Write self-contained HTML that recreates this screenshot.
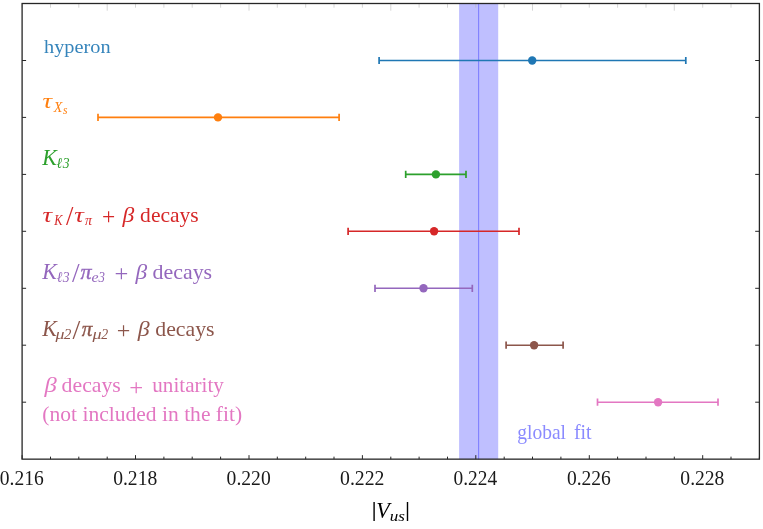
<!DOCTYPE html>
<html><head><meta charset="utf-8"><title>Vus</title>
<style>
html,body{margin:0;padding:0;background:#fff;}
body{width:763px;height:529px;overflow:hidden;}
svg{display:block;will-change:transform;}
text{font-family:"Liberation Serif",serif;}
.i{font-style:italic;}
</style></head><body>
<svg width="763" height="529" viewBox="0 0 763 529">
<rect x="0" y="0" width="763" height="529" fill="#ffffff"/>
<rect x="459.1" y="3.5" width="39.1" height="455.65" fill="#bfbfff"/>
<line x1="478.6" y1="3.5" x2="478.6" y2="459.15" stroke="#8080ff" stroke-width="1.1"/>
<path d="M22.1 3.5v4.2 M50.5 3.5v4.2 M78.8 3.5v4.2 M107.2 3.5v7.2 M135.5 3.5v4.2 M163.9 3.5v4.2 M192.2 3.5v4.2 M220.6 3.5v4.2 M249.0 3.5v7.2 M277.3 3.5v4.2 M305.7 3.5v4.2 M334.0 3.5v4.2 M362.4 3.5v4.2 M390.8 3.5v7.2 M419.1 3.5v4.2 M447.5 3.5v4.2 M475.8 3.5v4.2 M504.2 3.5v4.2 M532.5 3.5v7.2 M560.9 3.5v4.2 M589.3 3.5v4.2 M617.6 3.5v4.2 M646.0 3.5v4.2 M674.3 3.5v7.2 M702.7 3.5v4.2 M731.0 3.5v4.2 M759.4 3.5v4.2" stroke="#b4b4b4" stroke-width="0.55" fill="none"/>
<path d="M22.1 459.15v-4.0 M50.5 459.15v-2.5 M78.8 459.15v-2.5 M107.2 459.15v-2.5 M135.5 459.15v-4.0 M163.9 459.15v-2.5 M192.2 459.15v-2.5 M220.6 459.15v-2.5 M249.0 459.15v-4.0 M277.3 459.15v-2.5 M305.7 459.15v-2.5 M334.0 459.15v-2.5 M362.4 459.15v-4.0 M390.8 459.15v-2.5 M419.1 459.15v-2.5 M447.5 459.15v-2.5 M475.8 459.15v-4.0 M504.2 459.15v-2.5 M532.5 459.15v-2.5 M560.9 459.15v-2.5 M589.3 459.15v-4.0 M617.6 459.15v-2.5 M646.0 459.15v-2.5 M674.3 459.15v-2.5 M702.7 459.15v-4.0 M731.0 459.15v-2.5 M759.4 459.15v-2.5 M22.1 60.5h4 M759.4 60.5h-4.2 M22.1 117.4h4 M759.4 117.4h-4.2 M22.1 174.4h4 M759.4 174.4h-4.2 M22.1 231.3h4 M759.4 231.3h-4.2 M22.1 288.3h4 M759.4 288.3h-4.2 M22.1 345.2h4 M759.4 345.2h-4.2 M22.1 402.2h4 M759.4 402.2h-4.2" stroke="#262626" stroke-width="1" fill="none"/>
<g stroke="#1f77b4" fill="#1f77b4"><path d="M379.1 60.5H685.8" stroke-width="1.6" fill="none"/><path d="M379.1 56.9v7.2M685.8 56.9v7.2" stroke-width="1.7" fill="none"/><circle cx="532.2" cy="60.5" r="4.2" stroke="none"/></g>
<g stroke="#ff7f0e" fill="#ff7f0e"><path d="M98.0 117.4H339.1" stroke-width="1.6" fill="none"/><path d="M98.0 113.8v7.2M339.1 113.8v7.2" stroke-width="1.7" fill="none"/><circle cx="218.0" cy="117.4" r="4.2" stroke="none"/></g>
<g stroke="#2ca02c" fill="#2ca02c"><path d="M405.7 174.4H466.0" stroke-width="1.6" fill="none"/><path d="M405.7 170.8v7.2M466.0 170.8v7.2" stroke-width="1.7" fill="none"/><circle cx="435.9" cy="174.4" r="4.2" stroke="none"/></g>
<g stroke="#d62728" fill="#d62728"><path d="M348.1 231.3H519.0" stroke-width="1.6" fill="none"/><path d="M348.1 227.7v7.2M519.0 227.7v7.2" stroke-width="1.7" fill="none"/><circle cx="434.1" cy="231.3" r="4.2" stroke="none"/></g>
<g stroke="#9467bd" fill="#9467bd"><path d="M375.0 288.3H472.3" stroke-width="1.6" fill="none"/><path d="M375.0 284.7v7.2M472.3 284.7v7.2" stroke-width="1.7" fill="none"/><circle cx="423.5" cy="288.3" r="4.2" stroke="none"/></g>
<g stroke="#8c564b" fill="#8c564b"><path d="M506.1 345.2H563.1" stroke-width="1.6" fill="none"/><path d="M506.1 341.6v7.2M563.1 341.6v7.2" stroke-width="1.7" fill="none"/><circle cx="534.1" cy="345.2" r="4.2" stroke="none"/></g>
<g stroke="#e377c2" fill="#e377c2"><path d="M597.5 402.2H718.0" stroke-width="1.6" fill="none"/><path d="M597.5 398.6v7.2M718.0 398.6v7.2" stroke-width="1.7" fill="none"/><circle cx="658.1" cy="402.2" r="4.2" stroke="none"/></g>
<rect x="22.1" y="3.5" width="737.3" height="455.65" fill="none" stroke="#262626" stroke-width="1.3"/>
<text fill="#1a1a1a" font-size="20.3" transform="translate(-0.24 484.80) scale(0.9617 1)">0.216</text>
<text fill="#1a1a1a" font-size="20.3" transform="translate(113.18 484.80) scale(0.9654 1)">0.218</text>
<text fill="#1a1a1a" font-size="20.3" transform="translate(226.62 484.80) scale(0.9654 1)">0.220</text>
<text fill="#1a1a1a" font-size="20.3" transform="translate(340.04 484.80) scale(0.9730 1)">0.222</text>
<text fill="#1a1a1a" font-size="20.3" transform="translate(453.48 484.80) scale(0.9555 1)">0.224</text>
<text fill="#1a1a1a" font-size="20.3" transform="translate(566.91 484.80) scale(0.9617 1)">0.226</text>
<text fill="#1a1a1a" font-size="20.3" transform="translate(680.34 484.80) scale(0.9654 1)">0.228</text>
<text fill-opacity="0.9" fill="#1f77b4" font-size="19.5" transform="translate(44.00 53.40) scale(1.0424 1)">hyperon</text>
<text class="i" fill="#ff7f0e" font-size="21.5" transform="translate(42.51 108.30) scale(1.2447 1)">τ</text>
<text class="i" fill="#ff7f0e" font-size="15.3" transform="translate(53.77 111.60) scale(0.9181 1)">X</text>
<text class="i" fill="#ff7f0e" font-size="11.8" transform="translate(62.96 113.90) scale(0.9778 1)">s</text>
<text class="i" fill="#2ca02c" font-size="22.3" transform="translate(42.16 164.90) scale(0.9818 1)">K</text>
<text class="i" fill="#2ca02c" font-size="15.3" transform="translate(56.62 168.40) scale(0.9024 1)">ℓ</text>
<text class="i" fill="#2ca02c" font-size="15.3" transform="translate(62.82 168.40) scale(0.8961 1)">3</text>
<text class="i" fill="#d62728" font-size="21.5" transform="translate(42.61 221.80) scale(1.2447 1)">τ</text>
<text class="i" fill="#d62728" font-size="15.3" transform="translate(54.24 224.80) scale(0.8060 1)">K</text>
<text fill="#d62728" font-size="26.6" transform="translate(66.00 224.83) scale(1.0013 1)">/</text>
<text class="i" fill="#d62728" font-size="21.5" transform="translate(74.21 221.80) scale(1.2447 1)">τ</text>
<text class="i" fill="#d62728" font-size="15.3" transform="translate(84.93 224.80) scale(0.9075 1)">π</text>
<text fill="#d62728" font-size="23.4" transform="translate(101.93 223.97) scale(1.0010 1)">+</text>
<text class="i" fill="#d62728" font-size="21.5" transform="translate(122.48 221.80) scale(1.0977 1)">β</text>
<text fill="#d62728" font-size="21.5" transform="translate(140.12 221.80) scale(1.0010 1)">decays</text>
<text class="i" fill="#9467bd" font-size="22.3" transform="translate(42.16 278.90) scale(0.9818 1)">K</text>
<text class="i" fill="#9467bd" font-size="15.3" transform="translate(56.72 282.30) scale(0.9024 1)">ℓ</text>
<text class="i" fill="#9467bd" font-size="15.3" transform="translate(62.82 282.30) scale(0.8961 1)">3</text>
<text fill="#9467bd" font-size="26.6" transform="translate(71.90 281.93) scale(1.0284 1)">/</text>
<text stroke="#9467bd" stroke-width="0.35" class="i" fill="#9467bd" font-size="21.5" transform="translate(80.38 278.90) scale(1.0315 1)">π</text>
<text class="i" fill="#9467bd" font-size="15.3" transform="translate(91.41 282.30) scale(1.0374 1)">e</text>
<text class="i" fill="#9467bd" font-size="15.3" transform="translate(98.62 282.30) scale(0.8401 1)">3</text>
<text fill="#9467bd" font-size="23.4" transform="translate(114.58 281.07) scale(1.0470 1)">+</text>
<text class="i" fill="#9467bd" font-size="21.5" transform="translate(135.58 278.90) scale(1.0886 1)">β</text>
<text fill="#9467bd" font-size="21.5" transform="translate(152.51 278.90) scale(1.0203 1)">decays</text>
<text class="i" fill="#8c564b" font-size="22.3" transform="translate(42.16 335.70) scale(0.9818 1)">K</text>
<text class="i" fill="#8c564b" font-size="15.3" transform="translate(55.52 338.50) scale(1.1688 1)">μ</text>
<text class="i" fill="#8c564b" font-size="15.3" transform="translate(63.99 338.50) scale(0.9581 1)">2</text>
<text fill="#8c564b" font-size="26.6" transform="translate(72.60 338.73) scale(1.0554 1)">/</text>
<text stroke="#8c564b" stroke-width="0.35" class="i" fill="#8c564b" font-size="21.5" transform="translate(81.79 335.70) scale(0.9866 1)">π</text>
<text class="i" fill="#8c564b" font-size="15.3" transform="translate(92.42 338.50) scale(1.1827 1)">μ</text>
<text class="i" fill="#8c564b" font-size="15.3" transform="translate(101.29 338.50) scale(0.9033 1)">2</text>
<text fill="#8c564b" font-size="23.4" transform="translate(116.80 337.87) scale(1.0286 1)">+</text>
<text class="i" fill="#8c564b" font-size="21.5" transform="translate(137.78 335.70) scale(1.1068 1)">β</text>
<text fill="#8c564b" font-size="21.5" transform="translate(155.31 335.70) scale(1.0133 1)">decays</text>
<text class="i" fill="#e377c2" font-size="21.5" transform="translate(44.50 392.40) scale(1.1431 1)">β</text>
<text fill="#e377c2" font-size="21.5" transform="translate(61.61 392.40) scale(1.0133 1)">decays</text>
<text fill="#e377c2" font-size="23.4" transform="translate(129.37 394.57) scale(1.0561 1)">+</text>
<text fill="#e377c2" font-size="21.5" transform="translate(152.32 392.40) scale(0.9824 1)">unitarity</text>
<text fill="#e377c2" font-size="21.5" transform="translate(42.35 420.90) scale(1.0024 1)">(not included in the fit)</text>
<text fill-opacity="0.92" fill="#8080ff" font-size="20" transform="translate(517.26 438.60) scale(0.9768 1)">global</text>
<text fill-opacity="0.92" fill="#8080ff" font-size="20" transform="translate(573.89 438.60) scale(0.9976 1)">fit</text>
<path d="M374.1 502V520.9M407.5 502V520.9" stroke="#000" stroke-width="1.4" fill="none"/>
<text class="i" fill="#000" font-size="22.5" transform="translate(376.35 517.50) scale(0.9774 1)">V</text>
<text class="i" fill="#000" font-size="15.2" transform="translate(389.85 520.90) scale(1.1221 1)">us</text>
</svg></body></html>
